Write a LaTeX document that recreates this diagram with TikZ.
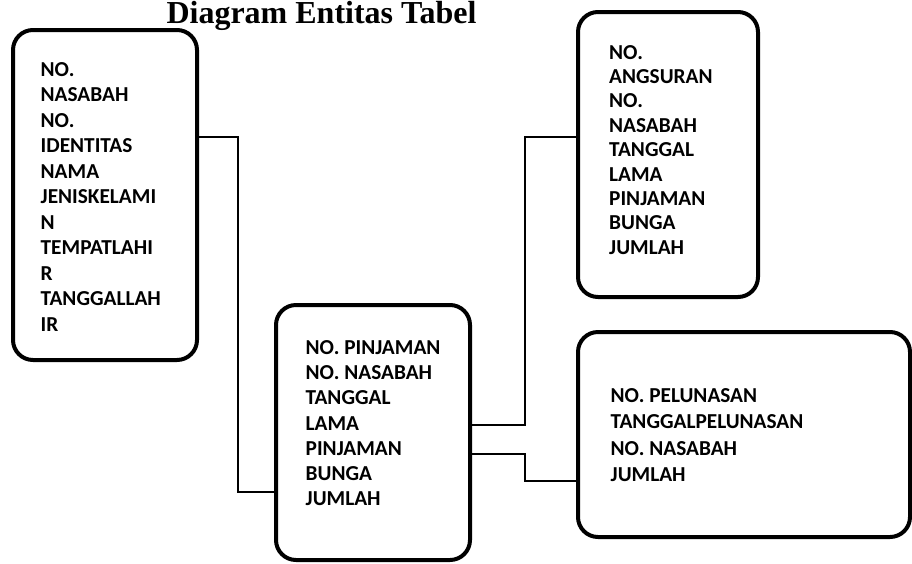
\documentclass[tikz,border=0pt]{standalone}
\usepackage{fontspec}
\setmainfont{Carlito}
\newfontfamily\titlefont{Liberation Serif}
\begin{document}
\begin{tikzpicture}[x=1pt,y=-1pt,
  ent/.style={draw, line width=4pt, rounded corners=20pt, rectangle, inner sep=0pt},
  attr/.style={anchor=north west, inner sep=0pt, align=left},
  link/.style={draw, line width=1.3pt}]
\useasboundingbox (0,0) rectangle (912,563);
\node[anchor=base, font=\titlefont\bfseries\fontsize{32}{38}\selectfont] (title) at (321.5,23.5) {Diagram Entitas Tabel};
% boxes
\node[ent, minimum width=184pt, minimum height=330pt] (b1) at (105,195) {};
\node[ent, minimum width=194pt, minimum height=255pt] (b2) at (373,432.5) {};
\node[ent, minimum width=180pt, minimum height=285pt] (b3) at (668,154.5) {};
\node[ent, minimum width=332pt, minimum height=205pt] (b4) at (744,434.5) {};
% texts
\node[attr, font=\bfseries\fontsize{21.3}{25.5}\selectfont] (t1) at (40.5,62) {NO.\\NASABAH\\NO.\\IDENTITAS\\NAMA\\JENISKELAMI\\N\\TEMPATLAHI\\R\\TANGGALLAH\\IR};
\node[attr, font=\bfseries\fontsize{21.3}{25.3}\selectfont] (t2) at (305.5,340) {NO. PINJAMAN\\NO. NASABAH\\TANGGAL\\LAMA\\PINJAMAN\\BUNGA\\JUMLAH};
\node[attr, font=\bfseries\fontsize{21.3}{24.4}\selectfont] (t3) at (609,45) {NO.\\ANGSURAN\\NO.\\NASABAH\\TANGGAL\\LAMA\\PINJAMAN\\BUNGA\\JUMLAH};
\node[attr, font=\bfseries\fontsize{21.3}{26.5}\selectfont] (t4) at (610.5,388) {NO. PELUNASAN\\TANGGALPELUNASAN\\NO. NASABAH\\JUMLAH};
% junction coordinates
\coordinate (k1) at (238,137);
\coordinate (k2) at (238,492);
\coordinate (k3) at (525,425);
\coordinate (k4) at (525,137);
\coordinate (k5) at (525,454);
\coordinate (k6) at (525,481);
\coordinate (s3) at (470,425);
\coordinate (s5) at (470,454);
% connectors
\draw[link] (b1.east |- k1) -- (k1) -- (k2) -- (b2.west |- k2);
\draw[link] (b2.east |- s3) -- (k3) -- (k4) -- (b3.west |- k4);
\draw[link] (b2.east |- s5) -- (k5) -- (k6) -- (b4.west |- k6);
\end{tikzpicture}
\end{document}
